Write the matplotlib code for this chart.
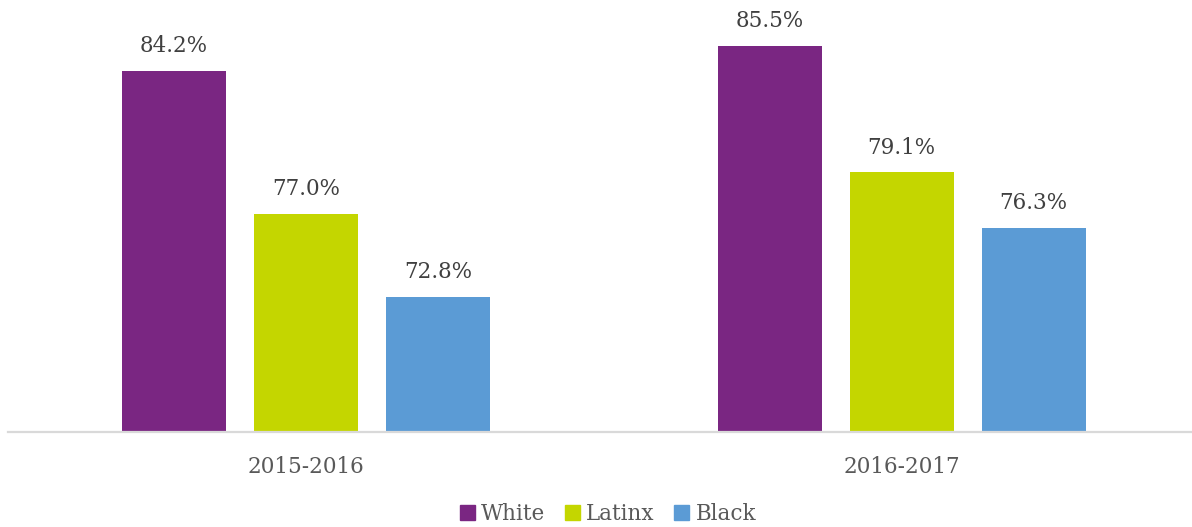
import numpy as np
import matplotlib.pyplot as plt
from matplotlib.patches import Patch

YEARS = ['2015-2016', '2016-2017']
GROUPS = ['White', 'Latinx', 'Black']
RATES = {
    'White': [84.2, 85.5],
    'Latinx': [77.0, 79.1],
    'Black': [72.8, 76.3],
}
COLORS = {'White': '#7A2682', 'Latinx': '#C4D600', 'Black': '#5B9BD5'}

plt.rcParams['font.family'] = ['Georgia', 'DejaVu Serif']

fig = plt.figure(figsize=(11.92, 5.27), dpi=100)
ax = fig.add_axes([8 / 1192, 1 - 432 / 527, 1184 / 1192, 432 / 527])

x = np.arange(len(YEARS))
width = 0.1745
step = 0.2215
for i, g in enumerate(GROUPS):
    pos = x + (i - 1) * step
    ax.bar(pos, RATES[g], width, color=COLORS[g], zorder=2)
    for xp, v in zip(pos, RATES[g]):
        ax.annotate(f'{v:.1f}%', (xp, v), xytext=(0, 10), textcoords='offset points',
                    ha='center', va='bottom', fontsize=15.5, color='#404040')

ax.set_xlim(-0.5, 1.487)
ax.set_ylim(66, 87.8)
ax.set_yticks([])
ax.set_xticks(x)
ax.set_xticklabels(YEARS, fontsize=15.5, color='#595959')
ax.tick_params(axis='x', length=0, pad=17)
for s in ['top', 'right', 'left']:
    ax.spines[s].set_visible(False)
ax.spines['bottom'].set_color('#d9d9d9')
ax.spines['bottom'].set_linewidth(1.6)

handles = [Patch(color=COLORS[g], label=g) for g in GROUPS]
fig.legend(handles=handles, loc='center', bbox_to_anchor=(608 / 1192, 1 - 514 / 527),
           ncol=3, frameon=False, fontsize=15.5, handlelength=0.7, handleheight=0.7,
           handletextpad=0.3, columnspacing=0.9, labelcolor='#595959')

fig.savefig('out.png', dpi=100)
